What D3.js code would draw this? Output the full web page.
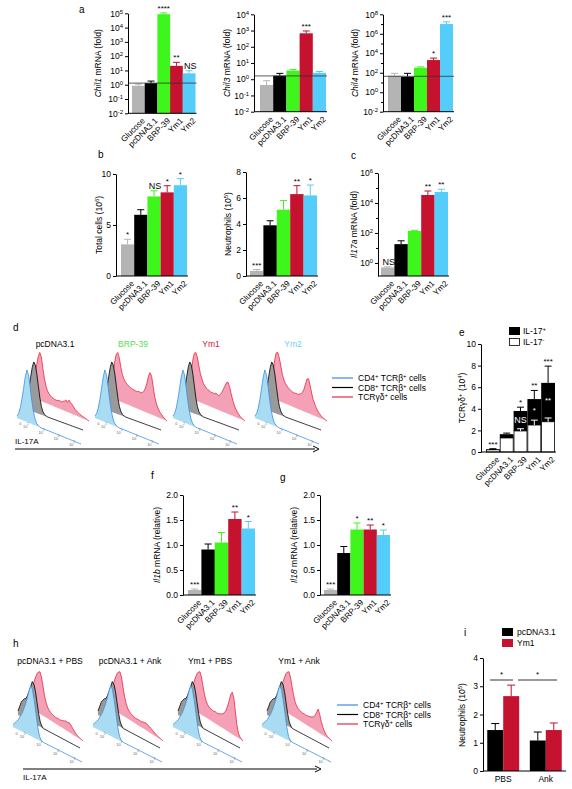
<!DOCTYPE html>
<html><head><meta charset="utf-8">
<script src="https://cdn.jsdelivr.net/npm/d3@7"></script>
<style>body{margin:0;background:#fff}svg{display:block}text{font-family:"Liberation Sans",Arial,sans-serif}</style>
</head><body><svg id="c" width="572" height="789"></svg>
<script>
// ---------- data ----------
const categories = ["Glucose","pcDNA3.1","BRP-39","Ym1","Ym2"];
const colors = ["#b4b4b4","#000000","#3ef51c","#c4122f","#55cdfb"];

const chil1Vals = [0.85, 1.3, 8.7e4, 21, 6.3];
const chil1Err  = [1.1, 1.8, 1.07e5, 37, 9.5];
const chil1Sig  = ["", "", "****", "**", "NS"];
const chil1Ticks = [1e-2,1e-1,1,1e1,1e2,1e3,1e4,1e5];

const chil3Vals = [0.44, 1.65, 3.4, 675, 2.5];
const chil3Err  = [0.81, 2.3, 4.0, 940, 3.0];
const chil3Sig  = ["", "", "", "***", ""];
const chil3Ticks = [1e-2,1e-1,1,1e1,1e2,1e3,1e4];

const chil4Vals = [50, 39, 330, 2000, 1e7];
const chil4Err  = [87, 87, 400, 3200, 1.7e7];
const chil4Sig  = ["", "", "", "*", "***"];
const chil4Ticks = [1e-2,1,1e2,1e4,1e6,1e8];
const chil4Minor = [1e-1,1e1,1e3,1e5,1e7];

const refLines = [1.3, 1.6, 43];

const totalVals = [3.1, 6.0, 7.8, 8.2, 8.9];
const totalErr  = [3.6, 6.5, 8.35, 8.85, 9.55];
const totalSig  = ["*", "", "NS", "*", "*"];
const totalTicks = [0,5,10];

const neutroVals = [0.4, 3.9, 5.1, 6.3, 6.2];
const neutroErr  = [0.5, 4.25, 5.8, 6.95, 7.0];
const neutroSig  = ["***","","","**","*"];
const neutroTicks = [0,2,4,6,8];

const il17aVals = [0.5, 18, 135, 3.4e4, 5.4e4];
const il17aErr  = [0.55, 30, 150, 6.3e4, 8.2e4];
const il17aSig  = ["NS","","","**","**"];
const il17aTicks = [1,1e2,1e4,1e6];
const il17aMinor = [1e1,1e3,1e5];

const tcrNegVals = [0.2, 1.3, 1.95, 2.5, 2.8];
const tcrNegErr  = [0.25, 1.4, 2.15, 2.95, 3.15];
const tcrTotVals = [0.25, 1.65, 3.8, 4.9, 6.4];
const tcrTotErr  = [0.3, 1.75, 4.15, 5.7, 7.95];
const tcrSigTop  = ["***","","*","**","***"];
const tcrSigIn   = ["","","NS","*","**"];
const tcrTicks = [0,2,4,6,8,10];

const il1bVals = [0.1, 0.91, 1.05, 1.52, 1.33];
const il1bErr  = [0.12, 1.02, 1.25, 1.66, 1.47];
const il1bSig  = ["***","","","**","*"];
const il18Vals = [0.1, 0.84, 1.31, 1.31, 1.20];
const il18Err  = [0.12, 0.97, 1.44, 1.40, 1.30];
const il18Sig  = ["***","","*","**","*"];
const relTicks = [0,0.5,1,1.5,2];

const iGroups = ["PBS","Ank"];
const iSeries = ["pcDNA3.1","Ym1"];
const iPcdnaVals = [1.45, 1.08];
const iPcdnaErr  = [1.68, 1.38];
const iYm1Vals   = [2.65, 1.45];
const iYm1Err    = [3.04, 1.7];
const iTicks = [0,1,2,3,4];

// flow histograms (relative counts per IL-17A bin)
const dTitles = ["pcDNA3.1","BRP-39","Ym1","Ym2"];
const dTitleColors = ["#000000","#55e04a","#d0203a","#6cd0f2"];
const hTitles = ["pcDNA3.1 + PBS","pcDNA3.1 + Ank","Ym1 + PBS","Ym1 + Ank"];
const blueD  = [0.04,0.1,0.22,0.4,0.62,0.85,1.0,0.92,0.7,0.45,0.25,0.12,0.05,0.02,0,0,0,0,0,0,0,0,0,0,0,0,0,0,0,0,0,0,0,0,0,0,0,0,0,0];
const blackD = [0.05,0.12,0.2,0.32,0.48,0.68,0.88,1.0,0.95,0.78,0.55,0.32,0.16,0.07,0.03,0.01,0,0,0,0,0,0,0,0,0,0,0,0,0,0,0,0,0,0,0,0,0,0,0,0];
const pinkD1 = [0.02,0.06,0.14,0.3,0.5,0.72,0.9,1.0,0.92,0.7,0.5,0.36,0.27,0.22,0.19,0.17,0.16,0.15,0.15,0.16,0.17,0.16,0.18,0.2,0.24,0.2,0.26,0.22,0.2,0.16,0.12,0.1,0.08,0.06,0.05,0.04,0.03,0.02,0.01,0];
const pinkD2 = [0.02,0.06,0.15,0.32,0.55,0.78,0.95,1.0,0.9,0.72,0.58,0.5,0.45,0.42,0.4,0.38,0.37,0.36,0.36,0.35,0.36,0.37,0.36,0.38,0.42,0.5,0.62,0.78,0.86,0.8,0.6,0.4,0.28,0.2,0.14,0.1,0.07,0.04,0.02,0];
const pinkD3 = [0.02,0.06,0.15,0.32,0.55,0.8,0.97,1.0,0.92,0.75,0.6,0.5,0.42,0.38,0.35,0.33,0.32,0.3,0.31,0.3,0.33,0.31,0.3,0.34,0.4,0.48,0.56,0.64,0.66,0.58,0.45,0.33,0.24,0.17,0.12,0.08,0.05,0.03,0.01,0];
const pinkD4 = [0.02,0.06,0.16,0.34,0.58,0.82,0.98,1.0,0.9,0.74,0.58,0.48,0.42,0.38,0.35,0.33,0.31,0.3,0.3,0.31,0.3,0.32,0.34,0.38,0.46,0.58,0.7,0.72,0.6,0.45,0.33,0.25,0.18,0.13,0.09,0.06,0.04,0.02,0.01,0];
const blueH  = [0.05,0.1,0.15,0.2,0.28,0.36,0.46,0.58,0.72,0.88,1.0,0.95,0.75,0.5,0.25,0.08,0.02,0,0,0,0,0,0,0,0,0,0,0,0,0,0,0,0,0,0,0,0,0,0,0];
const blackH = [0.1,0.22,0.35,0.42,0.48,0.5,0.6,0.72,0.86,1.0,0.96,0.8,0.55,0.3,0.12,0.04,0,0,0,0,0,0,0,0,0,0,0,0,0,0,0,0,0,0,0,0,0,0,0,0];
const pinkH1 = [0.02,0.05,0.1,0.18,0.28,0.4,0.52,0.65,0.78,0.9,0.97,1.0,0.9,0.7,0.5,0.36,0.27,0.22,0.19,0.17,0.16,0.15,0.15,0.16,0.15,0.17,0.18,0.2,0.22,0.2,0.23,0.2,0.16,0.12,0.08,0.05,0.03,0.02,0.01,0];
const pinkH2 = [0.02,0.05,0.1,0.18,0.28,0.4,0.52,0.65,0.78,0.9,0.97,1.0,0.9,0.68,0.48,0.34,0.25,0.2,0.17,0.15,0.14,0.13,0.13,0.14,0.13,0.14,0.15,0.16,0.17,0.15,0.14,0.12,0.1,0.08,0.06,0.04,0.03,0.02,0.01,0];
const pinkH3 = [0.02,0.05,0.1,0.18,0.28,0.4,0.52,0.65,0.78,0.9,0.97,1.0,0.9,0.7,0.52,0.4,0.33,0.3,0.28,0.27,0.27,0.28,0.27,0.28,0.3,0.32,0.35,0.4,0.48,0.6,0.75,0.92,1.0,0.9,0.6,0.3,0.12,0.05,0.02,0];
const pinkH4 = [0.02,0.05,0.1,0.18,0.28,0.4,0.52,0.65,0.78,0.9,0.97,1.0,0.9,0.7,0.52,0.38,0.3,0.26,0.24,0.23,0.22,0.23,0.22,0.23,0.24,0.25,0.27,0.3,0.36,0.45,0.55,0.45,0.3,0.2,0.12,0.07,0.04,0.02,0.01,0];

// ---------- helpers ----------
const svg = d3.select("#c");
function rich(t, parts){
  let shift = 0;
  parts.forEach(([s, k]) => {
    const ts = t.append("tspan").text(s);
    const target = k && k.includes("sup") ? -3 : (k && k.includes("sub") ? 1.5 : 0);
    if (target !== shift) { ts.attr("dy", target - shift); shift = target; }
    if (k && (k.includes("sup")||k.includes("sub"))) ts.attr("font-size","0.7em");
    if (k && k.includes("it")) ts.attr("font-style","italic");
  });
}
function text(x, y, s, o = {}){
  const t = svg.append("text").attr("x", x).attr("y", y)
    .attr("font-size", o.size || 8.5).attr("fill", o.fill || "#000")
    .attr("text-anchor", o.anchor || "start");
  if (Array.isArray(s)) rich(t, s); else t.text(s);
  return t;
}
function vtitle(x, y, parts, size){
  const t = svg.append("text").attr("transform", `translate(${x},${y}) rotate(-90)`)
    .attr("text-anchor","middle").attr("font-size", size || 8.5);
  rich(t, parts);
}
function styleAxis(g){
  g.select(".domain").attr("stroke","#000").attr("stroke-width",1);
  g.selectAll(".tick line").attr("stroke","#000");
  g.selectAll(".tick text").attr("font-size",8.5).attr("fill","#000")
    .attr("font-family","Liberation Sans, Arial, sans-serif");
}
function logLabels(g){
  g.selectAll(".tick text").each(function(d){
    const e = Math.round(Math.log10(d)); const t = d3.select(this); t.text(null);
    rich(t, [["10",""],[String(e),"sup"]]);
  });
}
function xLabels(x, y0, cats){
  cats.forEach(c => {
    svg.append("text").attr("transform", `translate(${x(c)+x.bandwidth()/2+3},${y0+4}) rotate(-45)`)
      .attr("text-anchor","end").attr("dy","0.7em").attr("font-size",8.2).text(c);
  });
}

function barPanel(o){
  const y = (o.log ? d3.scaleLog() : d3.scaleLinear()).domain(o.domain).range([o.y0, o.y1]);
  const x = d3.scaleBand().domain(categories).range([o.b0, o.b1]);
  const bw = x.bandwidth();
  const g = svg.append("g");
  g.selectAll("rect").data(o.values).join("rect")
    .attr("x", (d,i) => x(categories[i])).attr("y", d => y(d))
    .attr("width", bw).attr("height", d => o.y0 - y(d)).attr("fill", (d,i) => colors[i]);
  o.errors.forEach((e,i) => {
    const cx = x(categories[i]) + bw/2;
    g.append("line").attr("x1",cx).attr("x2",cx).attr("y1",y(o.values[i])).attr("y2",y(e)).attr("stroke",colors[i]);
    g.append("line").attr("x1",cx-3.5).attr("x2",cx+3.5).attr("y1",y(e)).attr("y2",y(e)).attr("stroke",colors[i]);
    if (o.sig[i]) text(cx + (o.sig[i]==="NS"?1:0), y(e) - 2, o.sig[i], {anchor:"middle", size: o.sig[i]==="NS"?9:8});
  });
  if (o.ref) g.append("line").attr("x1",o.ax).attr("x2",o.b1+1).attr("y1",y(o.ref)).attr("y2",y(o.ref)).attr("stroke","#333").attr("stroke-width",0.8);
  g.append("line").attr("x1",o.ax).attr("x2",o.b1+1).attr("y1",o.y0).attr("y2",o.y0).attr("stroke","#000");
  const axis = d3.axisLeft(y).tickValues(o.ticks).tickSize(3).tickSizeOuter(0).tickPadding(2);
  if (o.fmt) axis.tickFormat(o.fmt);
  const ag = svg.append("g").attr("transform",`translate(${o.ax},0)`).call(axis);
  styleAxis(ag);
  if (o.log) logLabels(ag);
  if (o.minor) {
    const mg = svg.append("g").attr("transform",`translate(${o.ax},0)`)
      .call(d3.axisLeft(y).tickValues(o.minor).tickSize(2).tickSizeOuter(0).tickFormat(""));
    mg.select(".domain").remove();
    mg.selectAll(".tick line").attr("stroke","#000");
  }
  xLabels(x, o.y0, categories);
  vtitle(o.tx, (o.y0+o.y1)/2, o.title);
  return {x, y};
}

// ---------- panel a ----------
text(79, 13, "a", {size:10});
barPanel({log:true, domain:[1e-2,1e5], y0:113.3, y1:13.3, ax:128, b0:132, b1:195.5,
  values:chil1Vals, errors:chil1Err, sig:chil1Sig, ticks:chil1Ticks, ref:refLines[0],
  tx:101, title:[["Chil1","it"],[" mRNA (fold)",""]]});
barPanel({log:true, domain:[1e-2,1e4], y0:111.7, y1:14.3, ax:254, b0:260, b1:326,
  values:chil3Vals, errors:chil3Err, sig:chil3Sig, ticks:chil3Ticks, ref:refLines[1],
  tx:230, title:[["Chil3","it"],[" mRNA (fold)",""]]});
barPanel({log:true, domain:[1e-2,1e8], y0:111.7, y1:14.3, ax:383, b0:388, b1:453,
  values:chil4Vals, errors:chil4Err, sig:chil4Sig, ticks:chil4Ticks, minor:chil4Minor, ref:refLines[2],
  tx:358, title:[["Chil4","it"],[" mRNA (fold)",""]]});

// ---------- panel b ----------
text(98, 158, "b", {size:10});
barPanel({domain:[0,10], y0:276, y1:174, ax:116, b0:121, b1:187,
  values:totalVals, errors:totalErr, sig:totalSig, ticks:totalTicks, fmt:d3.format("d"),
  tx:102, title:[["Total cells (10",""],["6","sup"],[")",""]]});
barPanel({domain:[0,8], y0:276, y1:172, ax:246, b0:250, b1:317,
  values:neutroVals, errors:neutroErr, sig:neutroSig, ticks:neutroTicks, fmt:d3.format("d"),
  tx:231, title:[["Neutrophils (10",""],["5","sup"],[")",""]]});
// ---------- panel c ----------
text(351, 159, "c", {size:10});
barPanel({log:true, domain:[Math.pow(10,-0.87),1e6], y0:276, y1:173, ax:378, b0:381, b1:448,
  values:il17aVals, errors:il17aErr, sig:il17aSig, ticks:il17aTicks, minor:il17aMinor,
  tx:357, title:[["Il17a","it"],[" mRNA (fold)",""]]});

// ---------- panel f, g ----------
text(151, 479, "f", {size:10});
barPanel({domain:[0,2], y0:595, y1:495, ax:183, b0:188, b1:255,
  values:il1bVals, errors:il1bErr, sig:il1bSig, ticks:relTicks, fmt:d3.format(".1f"),
  tx:160, title:[["Il1b","it"],[" mRNA (relative)",""]]});
text(280, 481, "g", {size:10});
barPanel({domain:[0,2], y0:595, y1:495, ax:320, b0:324, b1:390,
  values:il18Vals, errors:il18Err, sig:il18Sig, ticks:relTicks, fmt:d3.format(".1f"),
  tx:297, title:[["Il18","it"],[" mRNA (relative)",""]]});

// ---------- panel e (stacked) ----------
text(459, 336, "e", {size:10});
(function(){
  const y = d3.scaleLinear().domain([0,10]).range([452,344]);
  const x = d3.scaleBand().domain(categories).range([486,555]);
  const bw = x.bandwidth();
  categories.forEach((c,i) => {
    const x0 = x(c), cx = x0 + bw/2;
    svg.append("rect").attr("x",x0+0.4).attr("y",y(tcrNegVals[i])).attr("width",bw-0.8)
      .attr("height",y(0)-y(tcrNegVals[i])).attr("fill","#fff").attr("stroke","#000").attr("stroke-width",0.8);
    svg.append("rect").attr("x",x0).attr("y",y(tcrTotVals[i])).attr("width",bw)
      .attr("height",y(tcrNegVals[i])-y(tcrTotVals[i])).attr("fill","#000");
    const ec = i >= 2 ? "#fff" : "#000";
    svg.append("line").attr("x1",cx).attr("x2",cx).attr("y1",y(tcrNegVals[i])).attr("y2",y(tcrNegErr[i])).attr("stroke",ec);
    svg.append("line").attr("x1",cx-3.5).attr("x2",cx+3.5).attr("y1",y(tcrNegErr[i])).attr("y2",y(tcrNegErr[i])).attr("stroke",ec);
    svg.append("line").attr("x1",cx).attr("x2",cx).attr("y1",y(tcrTotVals[i])).attr("y2",y(tcrTotErr[i])).attr("stroke","#000");
    svg.append("line").attr("x1",cx-3.5).attr("x2",cx+3.5).attr("y1",y(tcrTotErr[i])).attr("y2",y(tcrTotErr[i])).attr("stroke","#000");
    if (tcrSigTop[i]) text(cx, y(tcrTotErr[i]) - 2, tcrSigTop[i], {anchor:"middle", size:8});
    if (tcrSigIn[i]) text(cx, (y(tcrTotVals[i]) + y(tcrNegErr[i]))/2 + 3, tcrSigIn[i], {anchor:"middle", size: tcrSigIn[i]==="NS"?9:8, fill:"#fff"});
  });
  svg.append("line").attr("x1",481).attr("x2",556).attr("y1",452).attr("y2",452).attr("stroke","#000");
  const ag = svg.append("g").attr("transform","translate(481,0)")
    .call(d3.axisLeft(y).tickValues(tcrTicks).tickSize(3).tickSizeOuter(0).tickPadding(2).tickFormat(d3.format("d")));
  styleAxis(ag);
  xLabels(x, 452, categories);
  vtitle(465, 398, [["TCRγδ",""],["+","sup"],[" (10",""],["4","sup"],[")",""]]);
  svg.append("rect").attr("x",509).attr("y",327).attr("width",11).attr("height",8).attr("fill","#000");
  svg.append("rect").attr("x",509.5).attr("y",338.5).attr("width",10).attr("height",7).attr("fill","#fff").attr("stroke","#000").attr("stroke-width",0.8);
  text(523, 334, [["IL-17",""],["+","sup"]], {size:8.5});
  text(523, 345, [["IL-17",""],["-","sup"]], {size:8.5});
})();

// ---------- panel i ----------
text(464, 636, "i", {size:10});
(function(){
  const y = d3.scaleLinear().domain([0,4]).range([771,658]);
  const x0 = d3.scaleBand().domain(iGroups).range([483,566]).paddingInner(0.25).paddingOuter(0.1);
  const x1 = d3.scaleBand().domain(iSeries).range([0, x0.bandwidth()]);
  const ser = [[iPcdnaVals, iPcdnaErr, "#000"], [iYm1Vals, iYm1Err, "#c4122f"]];
  iGroups.forEach((gname, gi) => {
    ser.forEach(([vals, errs, col], si) => {
      const bx = x0(gname) + x1(iSeries[si]); const cx = bx + x1.bandwidth()/2;
      svg.append("rect").attr("x",bx).attr("y",y(vals[gi])).attr("width",x1.bandwidth()).attr("height",y(0)-y(vals[gi])).attr("fill",col);
      svg.append("line").attr("x1",cx).attr("x2",cx).attr("y1",y(vals[gi])).attr("y2",y(errs[gi])).attr("stroke",col);
      svg.append("line").attr("x1",cx-4).attr("x2",cx+4).attr("y1",y(errs[gi])).attr("y2",y(errs[gi])).attr("stroke",col);
    });
    svg.append("text").attr("x", x0(gname)+x0.bandwidth()/2).attr("y",782).attr("text-anchor","middle").attr("font-size",8.5).text(gname);
  });
  svg.append("line").attr("x1",483).attr("x2",566).attr("y1",771).attr("y2",771).attr("stroke","#000");
  const ag = svg.append("g").attr("transform","translate(483,0)")
    .call(d3.axisLeft(y).tickValues(iTicks).tickSize(3).tickSizeOuter(0).tickPadding(2).tickFormat(d3.format("d")));
  styleAxis(ag);
  vtitle(465, 715, [["Neutrophils (10",""],["5","sup"],[")",""]]);
  const sy = 680;
  svg.append("line").attr("x1",490).attr("x2",513).attr("y1",sy).attr("y2",sy).attr("stroke","#000").attr("stroke-width",0.8);
  svg.append("line").attr("x1",518).attr("x2",557).attr("y1",sy).attr("y2",sy).attr("stroke","#000").attr("stroke-width",0.8);
  text(501.5, sy-3, "*", {anchor:"middle", size:8});
  text(537.5, sy-3, "*", {anchor:"middle", size:8});
  svg.append("rect").attr("x",502).attr("y",628).attr("width",11).attr("height",8).attr("fill","#000");
  svg.append("rect").attr("x",502).attr("y",639).attr("width",11).attr("height",8).attr("fill","#c4122f");
  text(517, 635, "pcDNA3.1", {size:8.5});
  text(517, 646, "Ym1", {size:8.5});
})();

// ---------- flow histograms ----------
const stylesH = {
  blue:{fill:"#a9dcf3", stroke:"#3a8ee0"},
  black:{fill:"#9a9a9a", stroke:"#000"},
  pink:{fill:"#f4a0b6", stroke:"#e8283f"}
};
function hist(ox, oy, geom, shape, st){
  const n = shape.length;
  const bx = d3.scaleLinear().domain([0,n-1]).range([ox+geom.sx, ox+geom.ex]);
  const by = d3.scaleLinear().domain([0,n-1]).range([oy+geom.sy, oy+geom.ey]);
  const pts = shape.map((v,i) => ({x:bx(i), b:by(i), t:by(i) - v*geom.h}));
  svg.append("path").attr("d", d3.area().x(d=>d.x).y0(d=>d.b).y1(d=>d.t)(pts)).attr("fill", st.fill);
  svg.append("path").attr("d", d3.line().x(d=>d.x).y(d=>d.t)(pts)).attr("fill","none").attr("stroke",st.stroke).attr("stroke-width",0.8);
}
function axisLabels(ox, oy, geom){
  const lab = ["0","2","3","4","5"]; const ts = [0.05,0.14,0.38,0.62,0.86];
  const bx = d3.scaleLinear().domain([0,1]).range([ox+geom.sx, ox+geom.ex]);
  const by = d3.scaleLinear().domain([0,1]).range([oy+geom.sy, oy+geom.ey]);
  lab.forEach((l,i) => {
    const t = svg.append("text").attr("x", bx(ts[i])).attr("y", by(ts[i])+6).attr("font-size",3.8).attr("fill","#666").attr("text-anchor","middle");
    if (l === "0") t.text("0"); else rich(t, [["10",""],[l,"sup"]]);
  });
}
function histRow(x0s, y0, geo, shapes, titles, tcolors, ty){
  x0s.forEach((ox, k) => {
    hist(ox, y0, geo.pink, shapes.pink[k], stylesH.pink);
    hist(ox, y0, geo.black, shapes.black, stylesH.black);
    hist(ox, y0, geo.blue, shapes.blue, stylesH.blue);
    axisLabels(ox, y0, geo.blue);
    text(ox + geo.titleDx, ty, titles[k], {anchor:"middle", size:8.5, fill:tcolors[k]});
  });
}
const dGeo = {blue:{sx:0,sy:0,ex:64,ey:26,h:52}, black:{sx:6,sy:-10,ex:66,ey:12,h:50}, pink:{sx:12,sy:-22,ex:72,ey:3,h:48}, titleDx:38};
const hGeo = {blue:{sx:0,sy:0,ex:69,ey:35,h:50}, black:{sx:5,sy:-12,ex:67,ey:21,h:41}, pink:{sx:10,sy:-24,ex:70,ey:14,h:42}, titleDx:37};
text(13, 331, "d", {size:10});
histRow([17,95,173,255], 418, dGeo, {blue:blueD, black:blackD, pink:[pinkD1,pinkD2,pinkD3,pinkD4]}, dTitles, dTitleColors, 347);
text(13, 647, "h", {size:10});
histRow([13,93,173,262], 727, hGeo, {blue:blueH, black:blackH, pink:[pinkH1,pinkH2,pinkH3,pinkH4]}, hTitles, ["#000","#000","#000","#000"], 664);

function legend(x, y, dy){
  const cols = ["#3a8ee0","#000","#e8283f"];
  const labels = [[["CD4",""],["+","sup"],[" TCRβ",""],["+","sup"],[" cells",""]],
                  [["CD8",""],["+","sup"],[" TCRβ",""],["+","sup"],[" cells",""]],
                  [["TCRγδ",""],["+","sup"],[" cells",""]]];
  labels.forEach((l,i) => {
    svg.append("line").attr("x1",x).attr("x2",x+21).attr("y1",y+i*dy).attr("y2",y+i*dy).attr("stroke",cols[i]).attr("stroke-width",1.2);
    text(x+26, y+i*dy+3, l, {size:8.5});
  });
}
legend(332, 378, 9.5);
legend(337, 705, 9.5);

function arrow(x1, x2, y){
  svg.append("line").attr("x1",x1).attr("x2",x2-4).attr("y1",y).attr("y2",y).attr("stroke","#000").attr("stroke-width",1);
  svg.append("path").attr("d",`M${x2-6},${y-3}L${x2},${y}L${x2-6},${y+3}`).attr("fill","none").attr("stroke","#000").attr("stroke-width",1);
}
arrow(15, 319, 449);
text(15, 444, "IL-17A", {size:8});
arrow(23, 321, 769);
text(23, 780, "IL-17A", {size:8});
</script></body></html>
